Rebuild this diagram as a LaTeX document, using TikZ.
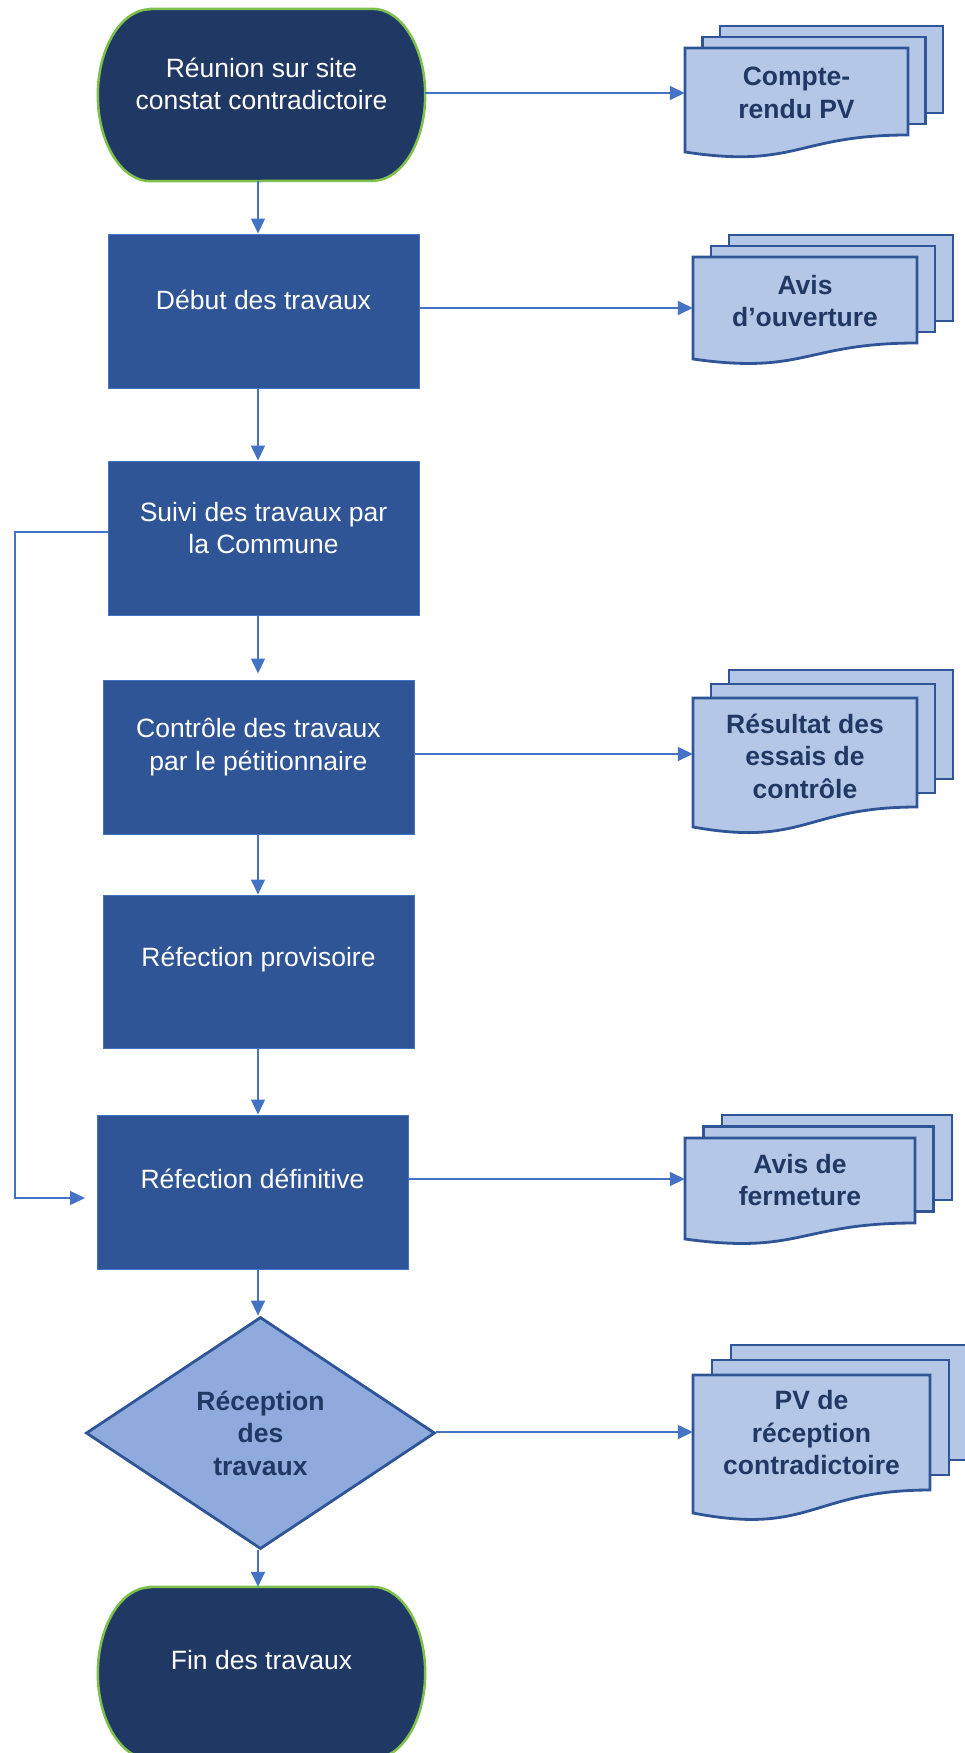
\documentclass[tikz,border=0pt]{standalone}
\usepackage{fontspec}
\setmainfont{Liberation Sans}
\usetikzlibrary{arrows.meta,shapes.geometric,backgrounds}
\definecolor{navy}{HTML}{203864}
\definecolor{boxblue}{HTML}{2F5597}
\definecolor{boxline}{HTML}{4472C4}
\definecolor{arrowblue}{HTML}{4472C4}
\definecolor{docfill}{HTML}{B4C7E7}
\definecolor{docline}{HTML}{2F5597}
\definecolor{dmfill}{HTML}{8FAADC}
\definecolor{termline}{HTML}{7DC04B}
% L R T H d dx dy  (pixel units, y downward)
\newcommand{\docstack}[7]{%
  \path[docpage] ({#1+2*#6},{-(#3)+2*#7}) rectangle ({#2+2*#6},{-(#3)-(#4)+2*#7});
  \path[docpage] ({#1+#6},{-(#3)+#7}) rectangle ({#2+#6},{-(#3)-(#4)+#7});
  \path[docpage] (#1,{-(#3)}) -- (#2,{-(#3)}) -- (#2,{-(#3)-(#4)})
     .. controls ({(#1+#2)/2},{-(#3)-(#4)}) and ({(#1+#2)/2},{-(#3)-(#4)-2*(#5)}) ..
     (#1,{-(#3)-(#4)-(#5)}) -- cycle;
}
\newcommand{\termshape}[1]{%
  \path[termstyle] ([xshift=52.6pt]#1.north west) -- ([xshift=-52.6pt]#1.north east)
    arc[start angle=90,end angle=-90,x radius=52.6,y radius=86]
    -- ([xshift=52.6pt]#1.south west)
    arc[start angle=270,end angle=90,x radius=52.6,y radius=86] -- cycle;
}
\begin{document}
\begin{tikzpicture}[x=1pt,y=1pt,
  every node/.style={font=\fontsize{26.5}{32.5}\selectfont},
  wtxt/.style={text=white, align=center, inner sep=0pt},
  box/.style={rectangle, fill=boxblue, draw=boxline, line width=1pt,
    minimum width=311pt, minimum height=154pt, inner sep=0pt},
  termph/.style={rectangle, minimum width=327pt, minimum height=172pt, inner sep=0pt},
  termstyle/.style={fill=navy, draw=termline, line width=2.5pt},
  docpage/.style={fill=docfill, draw=docline, line width=2.8pt},
  doctxt/.style={text=navy, font=\bfseries\fontsize{26.5}{32.5}\selectfont,
    align=center, inner sep=0pt},
  dm/.style={diamond, aspect=1.5, fill=dmfill, draw=docline, line width=2.8pt,
    minimum width=349pt, minimum height=232pt, inner sep=0pt, text=navy,
    font=\bfseries\fontsize{26.5}{32.5}\selectfont, align=center},
  arr/.style={draw=arrowblue, line width=1.5pt, -{Triangle[length=15pt,width=14pt]}}
]
\path[use as bounding box] (0,0) rectangle (965,-1753);

\coordinate (ax) at (258,0);
\coordinate (lx) at (15,0);

% main column
\node[termph, label={[wtxt,yshift=11pt]center:{Réunion sur site\\constat contradictoire}}] (t1) at (261.5,-95) {};
\node[box, label={[wtxt,yshift=11pt]center:{Début des travaux}}] (b2) at (263.5,-311) {};
\node[box, label={[wtxt,yshift=10pt]center:{Suivi des travaux par\\la Commune}}] (b3) at (263.5,-538) {};
\node[box, label={[wtxt,yshift=10pt]center:{Contrôle des travaux\\par le pétitionnaire}}] (b4) at (258.5,-757) {};
\node[box, minimum height=153pt, label={[wtxt,yshift=12pt]center:{Réfection provisoire}}] (b5) at (258.5,-971.5) {};
\node[box, label={[wtxt,yshift=13pt]center:{Réfection définitive}}] (b6) at (252.5,-1192) {};
\node[dm] (dm) at (260.5,-1433) {Réception\\des\\travaux};
\node[termph, label={[wtxt,yshift=13pt]center:{Fin des travaux}}] (t2) at (261.5,-1673) {};

% documents
\node[doctxt, minimum width=223pt] (d1) at (796.5,-93) {Compte-\\rendu PV};
\node[doctxt, minimum width=224pt] (d2) at (805,-301) {Avis\\d’ouverture};
\node[doctxt, minimum width=224pt] (d3) at (805,-756) {Résultat des\\essais de\\contrôle};
\node[doctxt, minimum width=230pt] (d4) at (800,-1180) {Avis de\\fermeture};
\node[doctxt, minimum width=237pt] (d5) at (811.5,-1433) {PV de\\réception\\contradictoire};

\begin{scope}[on background layer]
  \termshape{t1}
  \termshape{t2}
  \docstack{685}{908}{48}{87}{17}{17.5}{11}
  \docstack{693}{917}{257}{86}{16}{18}{11}
  \docstack{693}{917}{698}{109}{20}{18}{14}
  \docstack{685}{915}{1138}{85}{16}{18.5}{11.5}
  \docstack{693}{930}{1375}{115}{23}{19}{15}
\end{scope}

% vertical connectors
\draw[arr] (t1.south -| ax) -- (b2.north -| ax);
\draw[arr] (b2.south -| ax) -- (b3.north -| ax);
\draw[arr] (b3.south -| ax) -- ([yshift=6pt]b4.north -| ax);
\draw[arr] (b4.south -| ax) -- (b5.north -| ax);
\draw[arr] (b5.south -| ax) -- (b6.north -| ax);
\draw[arr] (b6.south -| ax) -- (dm.north -| ax);
\draw[arr] (dm.south -| ax) -- (t2.north -| ax);

% loop from Suivi to Réfection définitive
\coordinate (lstart) at ([yshift=6pt]b3.west);
\coordinate (lp) at (85,-1198);
\draw[arr] (lstart) -- (lstart -| lx) |- (lp);

% horizontal connectors to documents
\draw[arr] ([yshift=2pt]t1.east) -- ([yshift=2pt]t1.east -| d1.west);
\draw[arr] ([yshift=3pt]b2.east) -- ([yshift=3pt]b2.east -| d2.west);
\draw[arr] ([yshift=3pt]b4.east) -- ([yshift=3pt]b4.east -| d3.west);
\draw[arr] ([yshift=13pt]b6.east) -- ([yshift=13pt]b6.east -| d4.west);
\draw[arr] ([yshift=1pt]dm.east) -- ([yshift=1pt]dm.east -| d5.west);
\end{tikzpicture}
\end{document}
